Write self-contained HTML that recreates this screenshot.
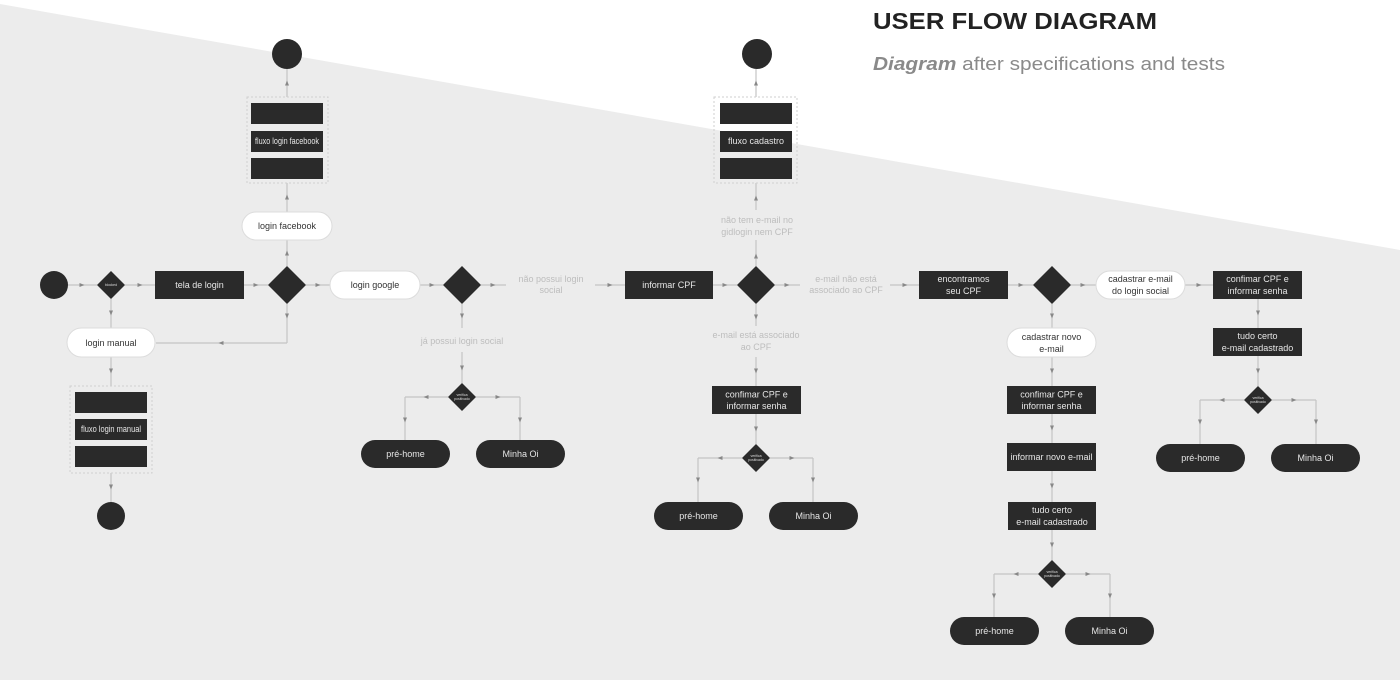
<!DOCTYPE html>
<html><head><meta charset="utf-8"><style>
html,body{margin:0;padding:0;width:1400px;height:680px;overflow:hidden;background:#ececec}
svg{display:block}
text{font-family:"Liberation Sans",sans-serif}
.d{fill:#2a2a2a}
.w{fill:#fff;stroke:#dcdcdc;stroke-width:1}
.l{fill:none;stroke:#c4c4c4;stroke-width:1.2;marker-mid:url(#a)}
.p{fill:none;stroke:#c4c4c4;stroke-width:1.2}
.t{fill:#e6e6e6;font-size:9px;text-anchor:middle}
.tw{fill:#333;font-size:9px;text-anchor:middle}
.g{fill:#bdbdbd;font-size:9px;text-anchor:middle}
.s{fill:#ddd;font-size:3.5px;text-anchor:middle}
.dash{fill:none;stroke:#cfcfcf;stroke-dasharray:2 2}
</style></head><body>
<svg width="1400" height="680" viewBox="0 0 1400 680">
<defs><marker id="a" markerWidth="5" markerHeight="5" refX="2.5" refY="2.5" orient="auto" markerUnits="userSpaceOnUse"><path d="M0,0.5 L5,2.5 L0,4.5z" fill="#888"/></marker></defs>
<polygon points="0,0 1400,0 1400,250 0,4" fill="#fff"/>
<text x="873" y="29" font-size="23" font-weight="bold" fill="#222" textLength="284" lengthAdjust="spacingAndGlyphs">USER FLOW DIAGRAM</text>
<text x="873" y="70" font-size="18" fill="#8a8a8a" textLength="352" lengthAdjust="spacingAndGlyphs"><tspan font-weight="bold" font-style="italic">Diagram</tspan> after specifications and tests</text>

<!-- connectors -->
<path class="l" d="M68,285 L82,285 L97,285"/>
<path class="l" d="M125,285 L140,285 L155,285"/>
<path class="l" d="M244,285 L256,285 L268,285"/>
<path class="l" d="M306,285 L318,285 L330,285"/>
<path class="l" d="M420,285 L432,285 L443,285"/>
<path class="l" d="M481,285 L493,285 L506,285"/>
<path class="l" d="M595,285 L610,285 L625,285"/>
<path class="l" d="M713,285 L725,285 L737,285"/>
<path class="l" d="M775,285 L787,285 L800,285"/>
<path class="l" d="M890,285 L905,285 L919,285"/>
<path class="l" d="M1008,285 L1021,285 L1033,285"/>
<path class="l" d="M1071,285 L1083,285 L1096,285"/>
<path class="l" d="M1185,285 L1199,285 L1213,285"/>
<path class="l" d="M287,266 L287,253 L287,240"/>
<path class="l" d="M287,212 L287,197 L287,183"/>
<path class="l" d="M287,97 L287,83 L287,69"/>
<path class="l" d="M287,304 L287,316 L287,343"/>
<path class="l" d="M287,343 L221,343 L156,343"/>
<path class="l" d="M111,299 L111,313 L111,328"/>
<path class="l" d="M111,357 L111,371 L111,386"/>
<path class="l" d="M111,473 L111,487 L111,502"/>
<path class="l" d="M462,304 L462,316 L462,328"/>
<path class="l" d="M462,352 L462,368 L462,383"/>
<path class="l" d="M448,397 L426,397 L405,397"/><path class="l" d="M405,397 L405,420 L405,440"/>
<path class="l" d="M476,397 L498,397 L520,397"/><path class="l" d="M520,397 L520,420 L520,440"/>
<path class="l" d="M756,266 L756,256 L756,240"/>
<path class="l" d="M756,210 L756,198 L756,183"/>
<path class="l" d="M756,97 L756,83 L756,69"/>
<path class="l" d="M756,304 L756,317 L756,326"/>
<path class="l" d="M756,357 L756,371 L756,386"/>
<path class="l" d="M756,414 L756,429 L756,444"/>
<path class="l" d="M742,458 L720,458 L698,458"/><path class="l" d="M698,458 L698,480 L698,502"/>
<path class="l" d="M770,458 L792,458 L813,458"/><path class="l" d="M813,458 L813,480 L813,502"/>
<path class="l" d="M1052,304 L1052,316 L1052,328"/>
<path class="l" d="M1052,357 L1052,371 L1052,386"/>
<path class="l" d="M1052,414 L1052,428 L1052,443"/>
<path class="l" d="M1052,471 L1052,486 L1052,502"/>
<path class="l" d="M1052,530 L1052,545 L1052,560"/>
<path class="l" d="M1038,574 L1016,574 L994,574"/><path class="l" d="M994,574 L994,596 L994,617"/>
<path class="l" d="M1066,574 L1088,574 L1110,574"/><path class="l" d="M1110,574 L1110,596 L1110,617"/>
<path class="l" d="M1258,299 L1258,313 L1258,328"/>
<path class="l" d="M1258,356 L1258,371 L1258,386"/>
<path class="l" d="M1244,400 L1222,400 L1200,400"/><path class="l" d="M1200,400 L1200,422 L1200,444"/>
<path class="l" d="M1272,400 L1294,400 L1316,400"/><path class="l" d="M1316,400 L1316,422 L1316,444"/>

<!-- nodes -->
<circle class="d" cx="54" cy="285" r="14"/>
<polygon class="d" points="111,271 125,285 111,299 97,285"/>
<text class="s" x="111" y="286">blocked</text>
<rect class="d" x="155" y="271" width="89" height="28"/>
<text class="t" x="199.5" y="288">tela de login</text>
<polygon class="d" points="287,266 306,285 287,304 268,285"/>
<rect class="w" x="242" y="212" width="90" height="28" rx="14"/>
<text class="tw" x="287" y="229">login facebook</text>
<rect class="dash" x="247" y="97" width="81" height="86"/>
<rect class="d" x="251" y="103" width="72" height="21"/>
<rect class="d" x="251" y="131" width="72" height="21"/>
<text class="t" x="287" y="144" font-size="7" textLength="64" lengthAdjust="spacingAndGlyphs">fluxo login facebook</text>
<rect class="d" x="251" y="158" width="72" height="21"/>
<circle class="d" cx="287" cy="54" r="15"/>

<rect class="w" x="67" y="328" width="88" height="29" rx="14.5"/>
<text class="tw" x="111" y="346">login manual</text>
<rect class="dash" x="70" y="386" width="82" height="87"/>
<rect class="d" x="75" y="392" width="72" height="21"/>
<rect class="d" x="75" y="419" width="72" height="21"/>
<text class="t" x="111" y="432" font-size="7" textLength="60" lengthAdjust="spacingAndGlyphs">fluxo login manual</text>
<rect class="d" x="75" y="446" width="72" height="21"/>
<circle class="d" cx="111" cy="516" r="14"/>

<rect class="w" x="330" y="271" width="90" height="28" rx="14"/>
<text class="tw" x="375" y="288">login google</text>
<polygon class="d" points="462,266 481,285 462,304 443,285"/>
<text class="g" x="551" y="282">não possui login</text>
<text class="g" x="551" y="293">social</text>
<text class="g" x="462" y="344">já possui login social</text>
<polygon class="d" points="462,383 476,397 462,411 448,397"/>
<text class="s" x="462" y="396">verifica</text><text class="s" x="462" y="400">positivado</text>
<rect class="d" x="361" y="440" width="89" height="28" rx="14"/>
<text class="t" x="405.5" y="457">pré-home</text>
<rect class="d" x="476" y="440" width="89" height="28" rx="14"/>
<text class="t" x="520.5" y="457">Minha Oi</text>

<rect class="d" x="625" y="271" width="88" height="28"/>
<text class="t" x="669" y="288">informar CPF</text>
<polygon class="d" points="756,266 775,285 756,304 737,285"/>
<text class="g" x="757" y="223">não tem e-mail no</text>
<text class="g" x="757" y="235">gidlogin nem CPF</text>
<rect class="dash" x="714" y="97" width="83" height="86"/>
<rect class="d" x="720" y="103" width="72" height="21"/>
<rect class="d" x="720" y="131" width="72" height="21"/>
<text class="t" x="756" y="144" font-size="7">fluxo cadastro</text>
<rect class="d" x="720" y="158" width="72" height="21"/>
<circle class="d" cx="757" cy="54" r="15"/>
<text class="g" x="846" y="282">e-mail não está</text>
<text class="g" x="846" y="293">associado ao CPF</text>
<text class="g" x="756" y="338">e-mail está associado</text>
<text class="g" x="756" y="350">ao CPF</text>
<rect class="d" x="712" y="386" width="89" height="28"/>
<text class="t" x="756.5" y="397.5">confimar CPF e</text>
<text class="t" x="756.5" y="409">informar senha</text>
<polygon class="d" points="756,444 770,458 756,472 742,458"/>
<text class="s" x="756" y="457">verifica</text><text class="s" x="756" y="461">positivado</text>
<rect class="d" x="654" y="502" width="89" height="28" rx="14"/>
<text class="t" x="698.5" y="519">pré-home</text>
<rect class="d" x="769" y="502" width="89" height="28" rx="14"/>
<text class="t" x="813.5" y="519">Minha Oi</text>

<rect class="d" x="919" y="271" width="89" height="28"/>
<text class="t" x="963.5" y="282">encontramos</text>
<text class="t" x="963.5" y="294">seu CPF</text>
<polygon class="d" points="1052,266 1071,285 1052,304 1033,285"/>
<rect class="w" x="1096" y="271" width="89" height="28" rx="14"/>
<text class="tw" x="1140.5" y="282">cadastrar e-mail</text>
<text class="tw" x="1140.5" y="294">do login social</text>
<rect class="d" x="1213" y="271" width="89" height="28"/>
<text class="t" x="1257.5" y="282">confimar CPF e</text>
<text class="t" x="1257.5" y="294">informar senha</text>
<rect class="d" x="1213" y="328" width="89" height="28"/>
<text class="t" x="1257.5" y="339">tudo certo</text>
<text class="t" x="1257.5" y="351">e-mail cadastrado</text>
<polygon class="d" points="1258,386 1272,400 1258,414 1244,400"/>
<text class="s" x="1258" y="399">verifica</text><text class="s" x="1258" y="403">positivado</text>
<rect class="d" x="1156" y="444" width="89" height="28" rx="14"/>
<text class="t" x="1200.5" y="461">pré-home</text>
<rect class="d" x="1271" y="444" width="89" height="28" rx="14"/>
<text class="t" x="1315.5" y="461">Minha Oi</text>

<rect class="w" x="1007" y="328" width="89" height="29" rx="14.5"/>
<text class="tw" x="1051.5" y="340">cadastrar novo</text>
<text class="tw" x="1051.5" y="352">e-mail</text>
<rect class="d" x="1007" y="386" width="89" height="28"/>
<text class="t" x="1051.5" y="397.5">confimar CPF e</text>
<text class="t" x="1051.5" y="409">informar senha</text>
<rect class="d" x="1007" y="443" width="89" height="28"/>
<text class="t" x="1051.5" y="460">informar novo e-mail</text>
<rect class="d" x="1008" y="502" width="88" height="28"/>
<text class="t" x="1052" y="513">tudo certo</text>
<text class="t" x="1052" y="525">e-mail cadastrado</text>
<polygon class="d" points="1052,560 1066,574 1052,588 1038,574"/>
<text class="s" x="1052" y="573">verifica</text><text class="s" x="1052" y="577">positivado</text>
<rect class="d" x="950" y="617" width="89" height="28" rx="14"/>
<text class="t" x="994.5" y="634">pré-home</text>
<rect class="d" x="1065" y="617" width="89" height="28" rx="14"/>
<text class="t" x="1109.5" y="634">Minha Oi</text>
</svg>
</body></html>
